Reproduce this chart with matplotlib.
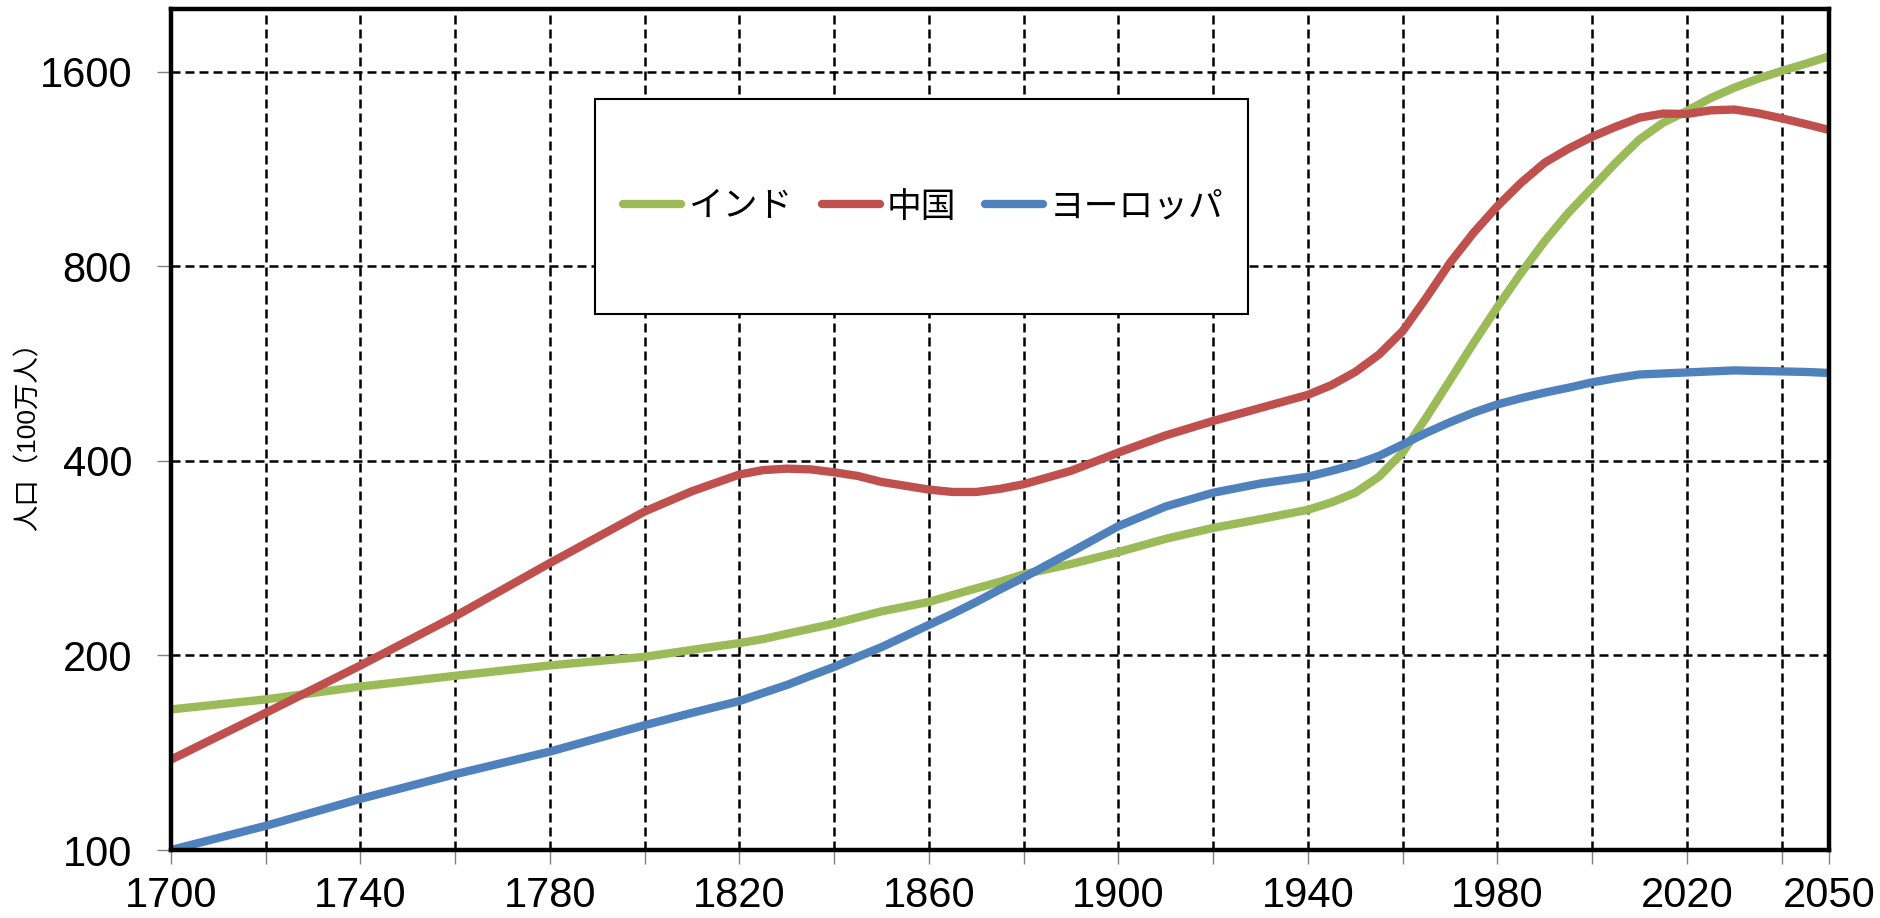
import matplotlib
matplotlib.use("Agg")
import matplotlib.pyplot as plt
from matplotlib.patches import Rectangle
from matplotlib.ticker import NullLocator

plt.rcParams['font.family'] = ['Liberation Sans', 'Noto Sans CJK JP', 'DejaVu Sans']

years = [1700, 1720, 1740, 1760, 1780, 1800, 1810, 1820, 1825, 1830, 1835, 1840,
         1845, 1850, 1860, 1865, 1870, 1875, 1880, 1890, 1900, 1910, 1920, 1930,
         1940, 1945, 1950, 1955, 1960, 1965, 1970, 1975, 1980, 1985, 1990, 1995,
         2000, 2005, 2010, 2015, 2020, 2025, 2030, 2035, 2040, 2045, 2050]

india = [165, 171, 179, 186, 193, 199, 204, 209, 212, 216, 220, 224,
         229, 234, 242, 248, 254, 260, 267, 277, 289, 303, 315, 325,
         336, 345, 357, 378, 412, 467, 533, 609, 692, 781, 875, 968,
         1058, 1157, 1257, 1334, 1391, 1456, 1511, 1560, 1604, 1645, 1690]

china = [138, 163, 193, 230, 278, 334, 359, 381, 387, 389, 388, 384,
         379, 371, 361, 358, 358, 362, 368, 386, 412, 438, 461, 483,
         506, 524, 549, 584, 635, 715, 810, 902, 991, 1077, 1157, 1216,
         1269, 1315, 1358, 1378, 1376, 1394, 1398, 1380, 1355, 1328, 1300]

europe = [100, 109, 120, 131, 142, 156, 163, 170, 175, 180, 186, 192,
          199, 206, 223, 232, 242, 253, 264, 289, 317, 340, 357, 369,
          378, 386, 395, 407, 424, 442, 459, 475, 489, 500, 510, 519,
          529, 537, 544, 546, 548, 550, 552, 551, 550, 549, 547]

series_names = ['インド', '中国', 'ヨーロッパ']
series_colors = ['#9BBB59', '#C0504D', '#4F81BD']

x_ticks = list(range(1700, 2041, 20)) + [2050]
x_labeled = [1700, 1740, 1780, 1820, 1860, 1900, 1940, 1980, 2020, 2050]
y_ticks = [100, 200, 400, 800, 1600]

W, H = 1881, 918
fig = plt.figure(figsize=(W / 100, H / 100), dpi=100)
L, R, T, B = 171, 1829, 9, 850
ax = fig.add_axes([L / W, 1 - B / H, (R - L) / W, (B - T) / H])

lines = []
for vals, name, col in zip([india, china, europe], series_names, series_colors):
    ln, = ax.plot(years, vals, color=col, lw=6, label=name,
                  solid_capstyle='round', solid_joinstyle='round', zorder=3)
    lines.append(ln)

ax.set_yscale('log')
ax.set_xlim(1700, 2050)
ax.set_ylim(100, 2000)

ax.set_yticks(y_ticks)
ax.set_yticklabels([str(v) for v in y_ticks])
ax.yaxis.set_minor_locator(NullLocator())
ax.set_xticks(x_ticks)
ax.set_xticklabels([str(v) if v in x_labeled else '' for v in x_ticks])

ax.tick_params(axis='both', which='major', direction='out', length=10, width=1,
               color='#808080', labelsize=30, labelcolor='black')
ax.tick_params(axis='y', pad=18)
ax.tick_params(axis='x', pad=9)

ax.grid(True, which='major', color='black', lw=1.8, linestyle=(0, (3.6, 2.0)), zorder=1)
ax.set_axisbelow(True)

for s in ax.spines.values():
    s.set_linewidth(3.2)
    s.set_color('black')
    s.set_zorder(6)

ax.set_ylabel('人口（100万人）', fontsize=19, va='center')
ax.yaxis.set_label_coords((28 - L) / (R - L), 0.5)

# legend box
bx0, bx1, by0, by1 = 595, 1248, 99, 314
rect = Rectangle((bx0 / W, 1 - by1 / H), (bx1 - bx0) / W, (by1 - by0) / H,
                 transform=fig.transFigure, facecolor='white', edgecolor='black',
                 lw=1.5, zorder=4)
ax.add_patch(rect)
leg = ax.legend(handles=lines, ncol=3, loc='center',
                bbox_to_anchor=((bx0 + bx1) / 2 / W + 2 / W, 1 - 207 / H),
                bbox_transform=fig.transFigure, frameon=False, fontsize=25,
                handlelength=1.67, handletextpad=0.2, columnspacing=0.84,
                borderpad=0, borderaxespad=0)
leg.set_zorder(5)

fig.savefig('out.png', dpi=100)
